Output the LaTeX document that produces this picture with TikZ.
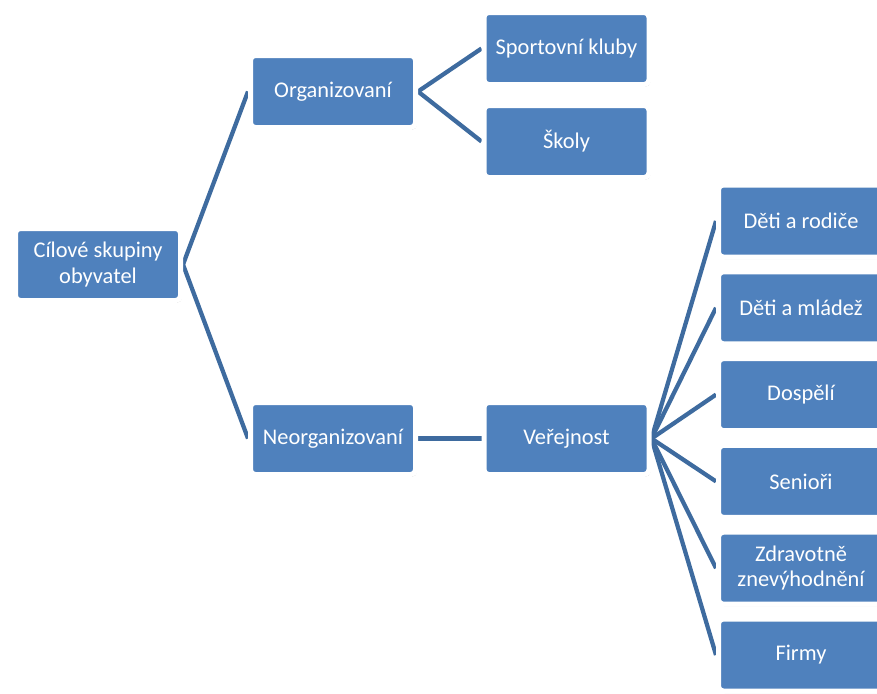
\documentclass[tikz,border=0pt]{standalone}
\usepackage{fontspec}
\setmainfont{Carlito}
\usetikzlibrary{shadows,backgrounds}
\definecolor{boxblue}{HTML}{4F81BD}
\definecolor{linkblue}{HTML}{3E6B9F}
\begin{document}
\begin{tikzpicture}[x=0.75pt,y=-0.75pt,
  box/.style={rectangle, rounded corners=3.5pt, fill=boxblue, draw=white,
    line width=3.75pt, minimum width=123.75pt, minimum height=54pt,
    inner sep=1pt, align=center, text=white,
    font=\fontsize{16.8}{19}\selectfont,
    drop shadow={shadow xshift=1.1pt, shadow yshift=-1.5pt, fill=black, opacity=0.28}},
  link/.style={draw=linkblue, line width=3.2pt}]
\useasboundingbox (0,0) rectangle (877,693);
\node[box] (cil) at (98,264.5) {Cílové skupiny\\obyvatel};
\node[box] (org) at (333,91.5) {Organizovaní};
\node[box] (sport) at (566.5,48.5) {Sportovní kluby};
\node[box] (skoly) at (566.5,141.5) {Školy};
\node[box] (neorg) at (333,438.5) {Neorganizovaní};
\node[box] (ver) at (566.5,438.5) {Veřejnost};
\node[box] (r1) at (801,221) {Děti a rodiče};
\node[box] (r2) at (801,307.8) {Děti a mládež};
\node[box] (r3) at (801,394.6) {Dospělí};
\node[box] (r4) at (801,481.4) {Senioři};
\node[box] (r5) at (801,568.2) {Zdravotně\\znevýhodnění};
\node[box] (r6) at (801,655) {Firmy};
\begin{pgfonlayer}{background}
\draw[link] (cil.east) -- (org.west);
\draw[link] (cil.east) -- (neorg.west);
\draw[link] (org.east) -- (sport.west);
\draw[link] (org.east) -- (skoly.west);
\draw[link] (neorg.east) -- (ver.west);
\foreach \r in {r1,r2,r3,r4,r5,r6}{\draw[link] (ver.east) -- (\r.west);}
\end{pgfonlayer}
\end{tikzpicture}
\end{document}
